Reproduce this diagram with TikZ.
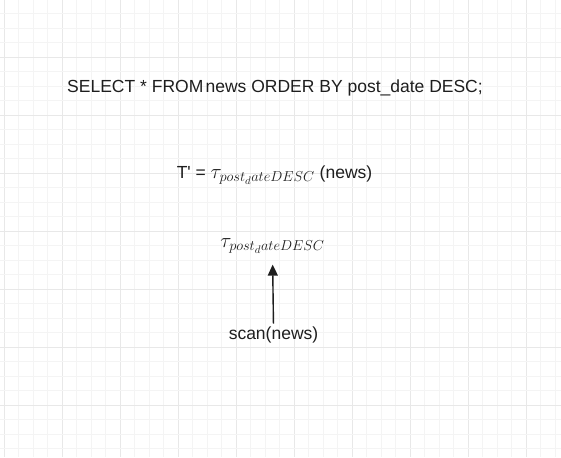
\documentclass[tikz,border=0pt]{standalone}
\usepackage{fontspec}
\setmainfont{Liberation Sans}
\usetikzlibrary{arrows.meta}
\definecolor{gridlight}{HTML}{F4F4F4}
\definecolor{griddark}{HTML}{E8E8E8}
\definecolor{txt}{HTML}{1E1E1E}
\newcommand{\mathbig}[1]{{\fontsize{21}{25}\selectfont$#1$}}
\tikzset{
  lbl/.style={font=\fontsize{17.5}{21}\selectfont, text=txt, inner sep=0pt, anchor=center},
  flow/.style={line width=1.4pt, draw=txt, -{Triangle[length=11pt,width=10pt]}}
}
\begin{document}
\begin{tikzpicture}[x=1pt,y=-1pt]
\useasboundingbox (0,0) rectangle (561,457);
\fill[white] (0,0) rectangle (561,457);
% grid
\foreach \k in {0,...,38} {
  \pgfmathsetmacro{\xx}{4+14.5*\k}
  \pgfmathtruncatemacro{\m}{mod(\k,4)}
  \ifnum\m=0
    \draw[griddark, line width=0.8pt] (\xx,0) -- (\xx,457);
  \else
    \draw[gridlight, line width=0.8pt] (\xx,0) -- (\xx,457);
  \fi
}
\foreach \k in {0,...,32} {
  \pgfmathsetmacro{\yy}{-1+14.5*\k}
  \pgfmathtruncatemacro{\m}{mod(\k,4)}
  \ifnum\m=0
    \draw[griddark, line width=0.8pt] (0,\yy) -- (561,\yy);
  \else
    \draw[gridlight, line width=0.8pt] (0,\yy) -- (561,\yy);
  \fi
}
\node[lbl] (sql) at (275,88) {SELECT * FROM\kern-0.15em{} news ORDER BY post\_date DESC;};
\node[lbl] (expr) at (274.5,175) {T\textquotesingle{} = \mathbig{\tau_{post_{d}ateDESC}} (news)};
\node[lbl] (sort) at (272.5,246) {\mathbig{\tau_{post_{d}ateDESC}}};
\node[lbl] (scan) at (273.5,335) {scan(news)};
\draw[flow, shorten <=3pt, shorten >=11pt] (scan.north) -- (sort.south);
\end{tikzpicture}
\end{document}
